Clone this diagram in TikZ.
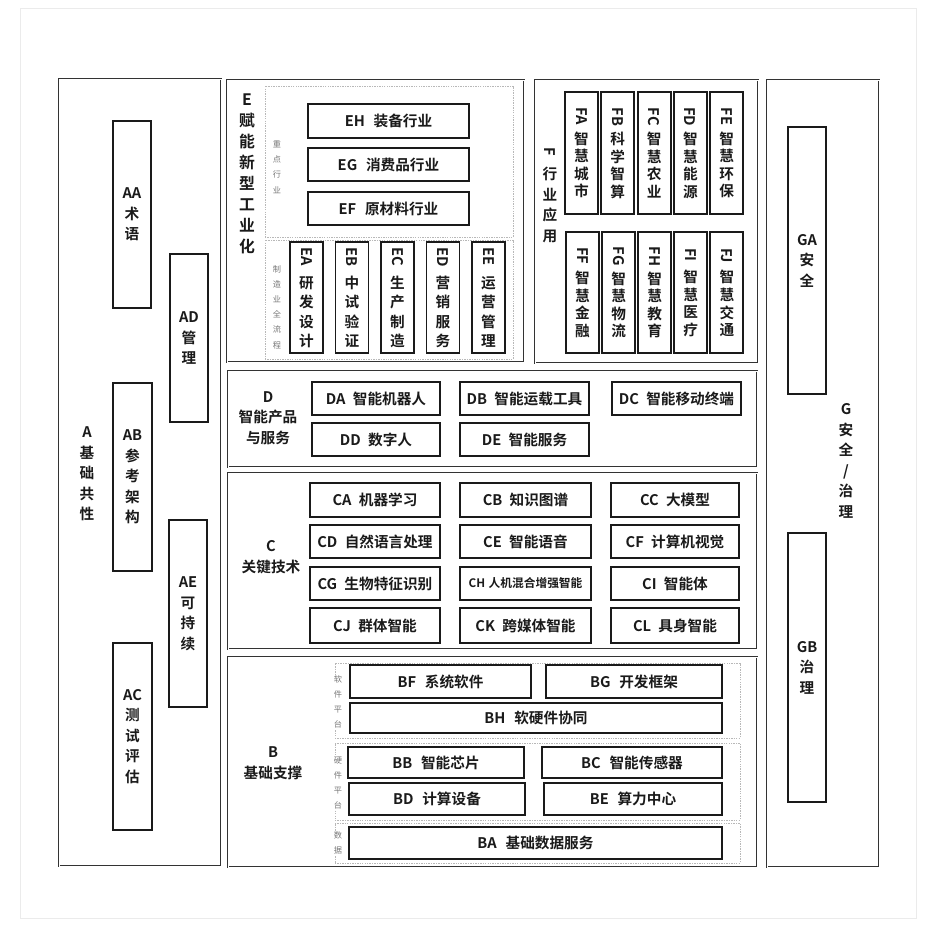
\documentclass[tikz,border=0pt]{standalone}
\usepackage{fontspec}
\setmainfont{Noto Sans CJK SC}[BoldFont={* Bold}]
\usepackage{graphicx}
\definecolor{ink}{HTML}{1A1A1A}
\definecolor{frame}{HTML}{333333}
\definecolor{zoneline}{HTML}{B8B8B8}
\definecolor{tagtext}{HTML}{777777}
\definecolor{pageline}{HTML}{EBEBEB}
\newcommand{\rotlat}[1]{\rotatebox[origin=c]{-90}{#1}}

\begin{document}
\begin{tikzpicture}[
  x=0.03cm, y=-0.03cm,
  span/.style args={#1/#2/#3/#4}{
    at={({(#1+#3)/2},{(#2+#4)/2})},
    minimum width={(#3-#1)*0.03cm},
    minimum height={(#4-#2)*0.03cm}
  },
  group/.style={draw=frame, double, double distance=0.55pt, line width=0.45pt, inner sep=0pt},
  item/.style={draw=ink, line width=1.6pt, inner sep=0pt, text=ink,
    font=\bfseries\fontsize{12.5}{15}\selectfont},
  vitem/.style={item, align=center, font=\bfseries\fontsize{12.5}{17.5}\selectfont},
  fitem/.style={item, align=center, font=\bfseries\fontsize{12.5}{15}\selectfont},
  zone/.style={draw=zoneline, dash pattern=on 1.2pt off 0.9pt, line width=0.6pt, inner sep=0pt},
  tag/.style={text=tagtext, align=center, font=\fontsize{7}{13}\selectfont},
  head/.style={text=ink, align=center, font=\bfseries\fontsize{12.5}{17.5}\selectfont}
]

% canvas
\fill[white] (0,0) rectangle (926,925);
\useasboundingbox (0,0) rectangle (926,925);
\draw[pageline, line width=0.6pt] (20,8) rectangle (916,918);

% A: basic commonality
\node[group, span=59/79/221/866] (A) {};
\node[head] (Alab) at (87,474) {A\\基\\础\\共\\性};
\node[vitem, span=113/121/151/308] (AA) {AA\\术\\语};
\node[vitem, span=170/254/208/422] (AD) {AD\\管\\理};
\node[vitem, span=113/383/152/571] (AB) {AB\\参\\考\\架\\构};
\node[vitem, span=169/520/207/707] (AE) {AE\\可\\持\\续};
\node[vitem, span=113/643/152/830] (AC) {AC\\测\\试\\评\\估};

% E: new industrialisation
\node[group, span=227/80/524/362] (E) {};
\node[head, font=\bfseries\fontsize{13.5}{18}\selectfont] (Elab) at (247,174) {E\\赋\\能\\新\\型\\工\\业\\化};
\node[zone, span=265/86/513/237] (keyzone) {};
\node[zone, span=265/240/513/359] (flowzone) {};
\node[tag] at (277,167) {重\\点\\行\\业};
\node[tag] at (277,307) {制\\造\\业\\全\\流\\程};
\node[item, span=308/104/469/138] (EH) {EH\hspace{0.6em}装备行业};
\node[item, span=308/148/469/181] (EG) {EG\hspace{0.6em}消费品行业};
\node[item, span=308/192/469/225] (EF) {EF\hspace{0.6em}原材料行业};
\foreach \id/\txt [count=\i from 0, evaluate=\i as \xl using {290+45.5*\i},
    evaluate=\i as \xr using {323+45.5*\i}] in {EA/{研\\发\\设\\计}, EB/{中\\试\\验\\证},
    EC/{生\\产\\制\\造}, ED/{营\\销\\服\\务}, EE/{运\\营\\管\\理}}
  \node[fitem, font=\bfseries\fontsize{12.5}{16.5}\selectfont, span=\xl/242/\xr/353] (\id) {\rotlat{\id}\\[6pt]\txt};

% F: industry applications
\node[group, span=535/80/758/363] (F) {};
\node[head] (Flab) at (550,195) {\rotlat{F}\\[2pt]行\\业\\应\\用};
\foreach \id/\txt [count=\i from 0, evaluate=\i as \xl using {565+36.3*\i},
    evaluate=\i as \xr using {598+36.3*\i}] in {FA/{智\\慧\\城\\市}, FB/{科\\学\\智\\算},
    FC/{智\\慧\\农\\业}, FD/{智\\慧\\能\\源}, FE/{智\\慧\\环\\保}}
  \node[fitem, span=\xl/92/\xr/214] (\id) {\rotlat{\id}\\[4pt]\txt};
\foreach \id/\txt [count=\i from 0, evaluate=\i as \xl using {566+36.1*\i},
    evaluate=\i as \xr using {599+36.1*\i}] in {FF/{智\\慧\\金\\融}, FG/{智\\慧\\物\\流},
    FH/{智\\慧\\教\\育}, FI/{智\\慧\\医\\疗}, FJ/{智\\慧\\交\\通}}
  \node[fitem, span=\xl/232/\xr/353] (\id) {\rotlat{\id}\\[4pt]\txt};

% G: security / governance
\node[group, span=767/80/879/867] (G) {};
\node[head] (Glab) at (846,461) {G\\安\\全\\/\\治\\理};
\node[vitem, span=788/127/826/394] (GA) {GA\\安\\全};
\node[vitem, span=788/533/826/802] (GB) {GB\\治\\理};

% D: smart products and services
\node[group, span=228/371/757/467] (D) {};
\node[head] (Dlab) at (268,418) {D\\智能产品\\与服务};
\node[item, span=312/382/440/415] (DA) {DA\hspace{0.5em}智能机器人};
\node[item, span=460/382/589/415] (DB) {DB\hspace{0.5em}智能运载工具};
\node[item, span=612/382/741/415] (DC) {DC\hspace{0.5em}智能移动终端};
\node[item, span=312/423/440/456] (DD) {DD\hspace{0.5em}数字人};
\node[item, span=460/423/589/456] (DE) {DE\hspace{0.5em}智能服务};

% C: key technologies
\node[group, span=228/473/757/649] (C) {};
\node[head] (Clab) at (271,557) {C\\关键技术};
\foreach \id/\txt/\xa/\xb/\ya/\yb in {
    CA/机器学习/310/440/483/517, CB/知识图谱/460/591/483/517, CC/大模型/611/739/483/517,
    CD/自然语言处理/310/440/525/558, CE/智能语音/460/591/525/558, CF/计算机视觉/611/739/525/558,
    CG/生物特征识别/310/440/567/600, CI/智能体/611/739/567/600,
    CJ/群体智能/310/440/608/643, CK/跨媒体智能/460/591/608/643, CL/具身智能/611/739/608/643}
  \node[item, span=\xa/\ya/\xb/\yb] (\id) {\id\hspace{0.5em}\txt};
\node[item, font=\bfseries\fontsize{10}{12}\selectfont, span=460/567/591/600] (CH) {CH\hspace{0.3em}人机混合增强智能};

% B: basic support
\node[group, span=228/657/757/867] (B) {};
\node[head] (Blab) at (273,763) {B\\基础支撑};
\node[zone, span=335/663/740/738] (swzone) {};
\node[zone, span=335/743/740/820] (hwzone) {};
\node[zone, span=335/823/740/863] (datazone) {};
\node[tag, fill=white, inner sep=0.5pt] at (338,702) {软\\件\\平\\台};
\node[tag, fill=white, inner sep=0.5pt] at (338,783) {硬\\件\\平\\台};
\node[tag, fill=white, inner sep=0.5pt] at (338,843) {数\\据};
\node[item, span=350/665/531/698] (BF) {BF\hspace{0.6em}系统软件};
\node[item, span=546/665/722/698] (BG) {BG\hspace{0.6em}开发框架};
\node[item, span=350/703/722/733] (BH) {BH\hspace{0.6em}软硬件协同};
\node[item, span=348/747/524/778] (BB) {BB\hspace{0.6em}智能芯片};
\node[item, span=542/747/722/778] (BC) {BC\hspace{0.6em}智能传感器};
\node[item, span=349/783/525/815] (BD) {BD\hspace{0.6em}计算设备};
\node[item, span=544/783/722/815] (BE) {BE\hspace{0.6em}算力中心};
\node[item, span=349/827/722/859] (BA) {BA\hspace{0.6em}基础数据服务};

\end{tikzpicture}
\end{document}
